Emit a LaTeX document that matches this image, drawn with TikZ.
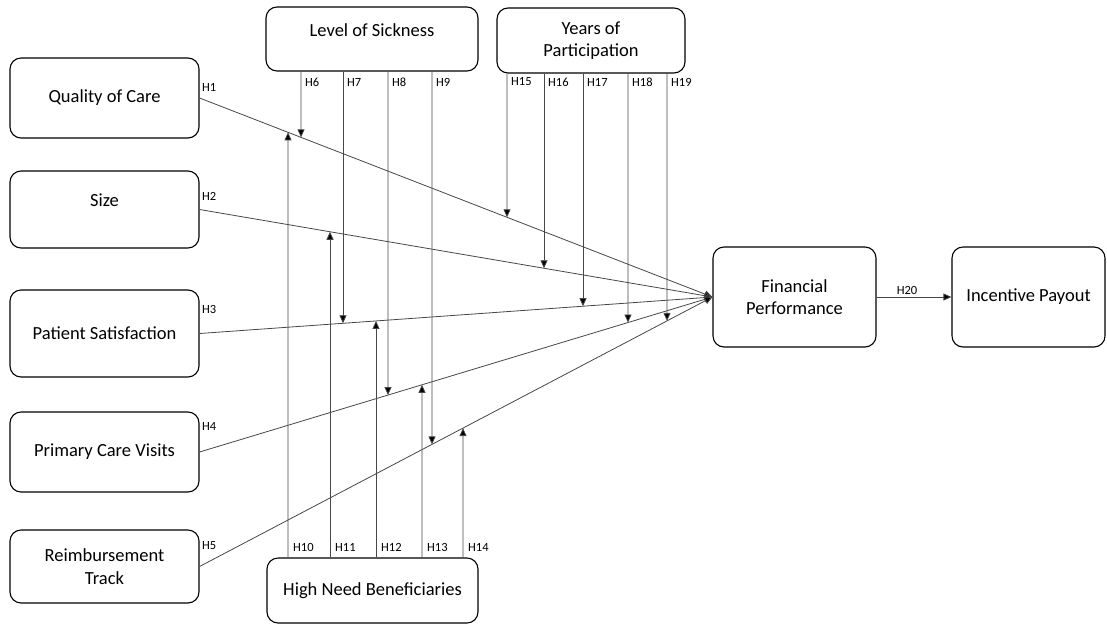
\documentclass[tikz,border=0pt]{standalone}
\usepackage{fontspec}
\setmainfont{Carlito}
\usetikzlibrary{arrows.meta,calc}
\begin{document}
\begin{tikzpicture}[x=1pt,y=-1pt,
  box/.style={draw=black, line width=1.1pt, rounded corners=11pt, align=center,
    font=\fontsize{18.5}{22.5}\selectfont, inner sep=0pt},
  conn/.style={draw=black!72, line width=0.8pt, -{Triangle[length=8pt,width=7pt,fill=black]}},
  hl/.style={font=\fontsize{12.5}{14}\selectfont, anchor=west, inner sep=0pt}]
\useasboundingbox (0,0) rectangle (1107,624);
% left boxes
\node[box, minimum width=189pt, minimum height=80pt] (qoc) at (104.5,98) {Quality of Care};
\node[box, minimum width=189pt, minimum height=77pt] (size) at (104.5,209.5) {\raisebox{9pt}[\height][\depth]{Size}};
\node[box, minimum width=189pt, minimum height=87pt] (ps) at (104.5,333.5) {Patient Satisfaction};
\node[box, minimum width=189pt, minimum height=80pt] (pcv) at (104.5,452) {Primary Care Visits};
\node[box, minimum width=189pt, minimum height=73pt] (rt) at (104.5,566.5) {Reimbursement\\Track};
% moderators
\node[box, minimum width=212pt, minimum height=64pt] (los) at (372,39) {\raisebox{9pt}[\height][\depth]{Level of Sickness}};
\node[box, minimum width=188pt, minimum height=65pt] (yop) at (591,40.5) {Years of\\Participation};
\node[box, minimum width=211pt, minimum height=65pt] (hnb) at (372.5,590.5) {High Need Beneficiaries};
% outcomes
\node[box, minimum width=163pt, minimum height=100pt] (fp) at (794.5,297) {Financial\\Performance};
\node[box, minimum width=153pt, minimum height=100pt] (ip) at (1028.5,297) {Incentive Payout};
% main paths
\foreach \s/\lab/\ly in {qoc/H1/87, size/H2/196, ps/H3/309, pcv/H4/426, rt/H5/546} {
  \draw[conn] (\s.east) -- (fp.west);
  \node[hl] (l\lab) at (202,\ly) {\lab};
}
\draw[conn] (fp.east) -- (ip.west);
\node[font=\fontsize{12.5}{14}\selectfont, inner sep=0pt] (lH20) at (907,290) {H20};
% downward moderating arrows
\foreach \x/\l/\src/\lab in {301/qoc/los/H6, 343/ps/los/H7, 388/pcv/los/H8, 432/rt/los/H9,
    507/qoc/yop/H15, 544/size/yop/H16, 583/ps/yop/H17, 628/pcv/yop/H18, 667/rt/yop/H19} {
  \coordinate (a\lab) at (\x,0);
  \coordinate (b\lab) at (\x,624);
  \draw[conn] (\src.south -| a\lab) -- (intersection of \l.east--fp.west and a\lab--b\lab);
  \node[hl] (l\lab) at (\x+4,82) {\lab};
}
% upward moderating arrows
\foreach \x/\l/\lab in {288/qoc/H10, 330/size/H11, 376/ps/H12, 422/pcv/H13, 463/rt/H14} {
  \coordinate (a\lab) at (\x,0);
  \coordinate (b\lab) at (\x,624);
  \draw[conn] (hnb.north -| a\lab) -- (intersection of \l.east--fp.west and a\lab--b\lab);
  \node[hl] (l\lab) at (\x+5,547) {\lab};
}
\end{tikzpicture}
\end{document}
